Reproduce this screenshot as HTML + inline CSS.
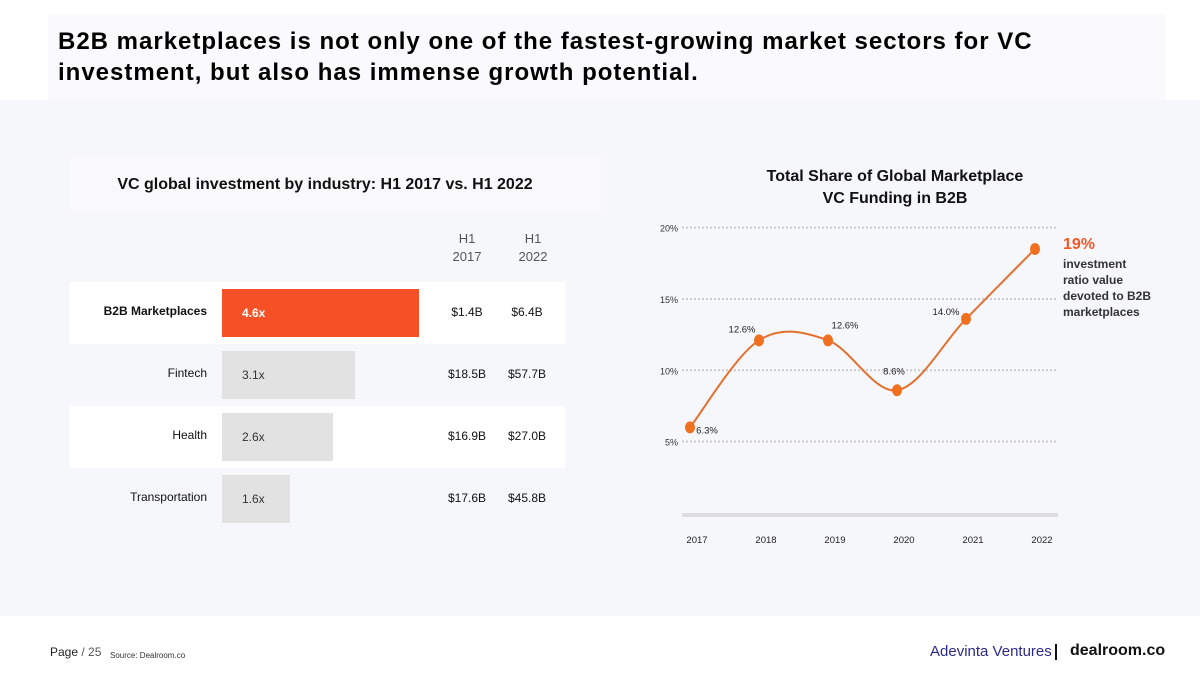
<!DOCTYPE html>
<html><head><meta charset="utf-8"><style>
body{margin:0;width:1200px;height:675px;background:#fff;font-family:"Liberation Sans",sans-serif;position:relative;overflow:hidden;color:#111}
.abs{position:absolute}
</style></head><body>
<div class="abs" style="left:0;top:100px;width:1200px;height:516px;background:#f6f7fb"></div>
<div class="abs" style="left:48px;top:14px;width:1117px;height:86px;background:#fafafc"></div>
<div class="abs" style="left:58px;top:26px;width:1040px;font-size:24px;font-weight:bold;line-height:31px;letter-spacing:1px;color:#000">B2B marketplaces is not only one of the fastest-growing market sectors for VC investment, but also has immense growth potential.</div>
<div class="abs" style="left:70px;top:158px;width:537px;height:52px;background:#f9f9fb"></div>
<div class="abs" style="left:70px;top:176px;width:510px;text-align:center;font-size:16px;font-weight:bold">VC global investment by industry: H1 2017 vs. H1 2022</div>
<div class="abs" style="left:440px;top:230px;width:54px;text-align:center;font-size:13px;color:#555;line-height:18px">H1<br>2017</div>
<div class="abs" style="left:506px;top:230px;width:54px;text-align:center;font-size:13px;color:#555;line-height:18px">H1<br>2022</div>
<div id="bars"></div>

<div class="abs" style="left:720px;top:166px;width:350px;text-align:center;font-size:16px;font-weight:bold;line-height:22px">Total Share of Global Marketplace<br>VC Funding in B2B</div>
<svg id="line" class="abs" style="left:0;top:0" width="1200" height="675"></svg>
<div class="abs" style="left:1063px;top:236px;font-size:16px;font-weight:bold;color:#f05a28">19%</div>
<div class="abs" style="left:1063px;top:256px;font-size:12px;font-weight:bold;color:#333;line-height:16px">investment<br>ratio value<br>devoted to B2B<br>marketplaces</div>

<div class="abs" style="left:50px;top:645px;font-size:12px;color:#222">Page <span style="color:#555">/ 25</span></div>
<div class="abs" style="left:110px;top:651px;font-size:8px;color:#333">Source: Dealroom.co</div>
<div class="abs" style="left:930px;top:643px;font-size:15px;color:#2b2a8c">Adevinta <span style="font-weight:normal">Ventures</span></div>
<div class="abs" style="left:1055px;top:644px;width:2px;height:16px;background:#111"></div>
<div class="abs" style="left:1070px;top:642px;font-size:16px;font-weight:bold;color:#111">dealroom.co</div>

<script>
const industries=["B2B Marketplaces","Fintech","Health","Transportation"];
const multiples=[4.6,3.1,2.6,1.6];
const multLabels=["4.6x","3.1x","2.6x","1.6x"];
const val2017=["$1.4B","$18.5B","$16.9B","$17.6B"];
const val2022=["$6.4B","$57.7B","$27.0B","$45.8B"];
const bx=v=>v*42.8;
const host=document.getElementById('bars');
industries.forEach((n,i)=>{
  const top=282+i*62;
  if(i%2===0){const r=document.createElement('div');r.className='abs';
  
  
  r.style.cssText=`left:70px;top:${top}px;width:495px;height:62px;background:#fff`;host.appendChild(r);}
  const l=document.createElement('div');l.className='abs';
  
  
  l.style.cssText=`left:70px;top:${top+22}px;width:137px;text-align:right;font-size:12px;${i===0?'font-weight:bold;':''}color:#111`;
  l.textContent=n;host.appendChild(l);
  const b=document.createElement('div');b.className='abs';
  
  
  b.style.cssText=`left:222px;top:${top+7}px;width:${bx(multiples[i])}px;height:48px;background:${i===0?'#f65126':'#e2e2e2'}`;
  host.appendChild(b);
  const t=document.createElement('div');t.className='abs';
  
  
  t.style.cssText=`left:242px;top:${top+24}px;font-size:12px;${i===0?'font-weight:bold;color:#fff':'color:#333'}`;
  t.textContent=multLabels[i];host.appendChild(t);
  [[val2017,467],[val2022,527]].forEach(([a,x])=>{const d=document.createElement('div');d.className='abs';
  
  
  d.style.cssText=`left:${x-35}px;top:${top+23}px;width:70px;text-align:center;font-size:12px;color:#111`;d.textContent=a[i];host.appendChild(d);});
});

const years=["2017","2018","2019","2020","2021","2022"];
const shares=[6.0,12.1,12.1,8.6,13.6,18.5];
const shareLabels=["6.3%","12.6%","12.6%","8.6%","14.0%",""];
const yTicks=[5,10,15,20];
const X=i=>690+i*69, Y=v=>513-v*14.27;
const svg=document.getElementById('line');const NS='http://www.w3.org/2000/svg';
function mk(tag,attrs,name,txt){const e=document.createElementNS(NS,tag);for(const k in attrs)e.setAttribute(k,attrs[k]);


if(txt!==undefined)e.textContent=txt;svg.appendChild(e);return e;}
yTicks.forEach(t=>{mk('line',{x1:682,x2:1058,y1:Y(t),y2:Y(t),stroke:'#ccc','stroke-width':2,'stroke-dasharray':'2 2'},'gridline');
mk('text',{x:678,y:Y(t)+4,'text-anchor':'end','font-size':9,fill:'#333','font-family':'Liberation Sans'},'y-tick-label',t+'%');});
mk('rect',{x:682,y:513,width:376,height:4,fill:'#ddd'},'x-axis-baseline');
years.forEach((y,i)=>mk('text',{x:X(i)+7,y:543,'text-anchor':'middle','font-size':9.5,fill:'#222','font-family':'Liberation Sans'},'x-tick-label',y));
const P=shares.map((v,i)=>[X(i),Y(v)]);
let d=`M${P[0][0]},${P[0][1]}`;
for(let i=0;i<P.length-1;i++){const p0=P[Math.max(0,i-1)],p1=P[i],p2=P[i+1],p3=P[Math.min(P.length-1,i+2)];
d+=` C${p1[0]+(p2[0]-p0[0])/6},${p1[1]+(p2[1]-p0[1])/6} ${p2[0]-(p3[0]-p1[0])/6},${p2[1]-(p3[1]-p1[1])/6} ${p2[0]},${p2[1]}`;}
mk('path',{d,fill:'none',stroke:'#e4702f','stroke-width':2},'share-line');
const off=[[17,6],[-17,-8],[17,-12],[-3,-16],[-20,-4],[0,0]];
P.forEach((p,i)=>{mk('ellipse',{cx:p[0],cy:p[1],rx:5,ry:6,fill:'#f07020'},'data-point');
if(shareLabels[i])mk('text',{x:p[0]+off[i][0],y:p[1]+off[i][1],'text-anchor':'middle','font-size':9.5,fill:'#222','font-family':'Liberation Sans'},'data-label',shareLabels[i]);});
</script>
</body></html>
